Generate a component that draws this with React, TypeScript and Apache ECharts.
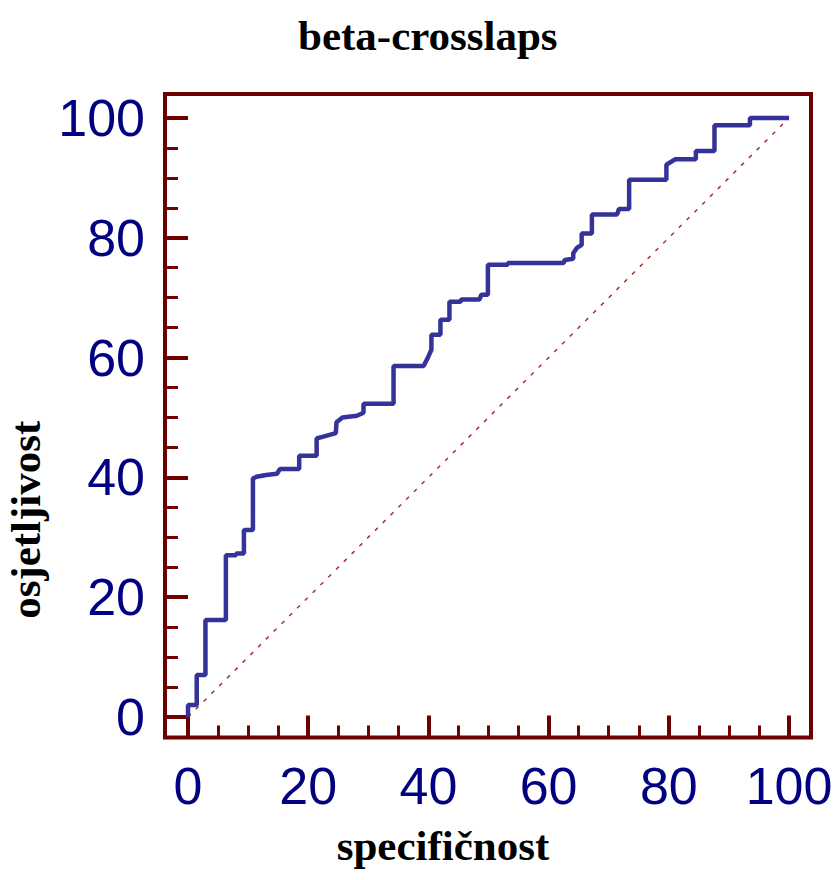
import React, { useEffect, useRef } from "react";
import * as echarts from "echarts";

const titleText = "beta-crosslaps";
const xTitle = "specifičnost";
const yTitle = "osjetljivost";

const majorTicks = [0, 20, 40, 60, 80, 100];
const minorTicks = [5, 10, 15, 25, 30, 35, 45, 50, 55, 65, 70, 75, 85, 90, 95];

const specificity = [
  0, 0, 1.45, 1.45, 2.9, 2.9, 6.3, 6.3, 8.0, 8.0, 9.3, 9.3, 10.8, 10.8, 11.4, 13.0, 14.8, 15.3,
  18.5, 18.5, 21.4, 21.4, 22.5, 24.6, 24.7, 25.7, 28.1, 29.2, 29.2, 34.2, 34.2, 39.2, 40.0, 40.5,
  40.5, 42.0, 42.0, 43.5, 43.5, 45.3, 45.5, 48.5, 48.8, 49.9, 49.9, 53.2, 53.2, 62.5, 62.7, 64.1,
  64.1, 64.7, 65.5, 65.5, 67.2, 67.2, 71.4, 71.7, 73.4, 73.4, 79.6, 79.6, 81.1, 84.5, 84.5, 87.6,
  87.6, 93.5, 93.5, 100,
];
const sensitivity = [
  0, 2.0, 2.0, 7.0, 7.0, 16.2, 16.2, 27.0, 27.0, 27.3, 27.3, 31.2, 31.2, 39.8, 40.1, 40.4, 40.6,
  41.4, 41.4, 43.6, 43.6, 46.5, 46.8, 47.4, 49.2, 50.0, 50.3, 50.8, 52.3, 52.3, 58.6, 58.6, 60.2,
  61.3, 63.8, 63.8, 66.3, 66.3, 69.3, 69.3, 69.7, 69.7, 70.5, 70.5, 75.5, 75.5, 75.8, 75.8, 76.3,
  76.5, 77.4, 78.3, 78.8, 80.7, 80.7, 83.9, 83.9, 84.8, 84.8, 89.7, 89.7, 92.2, 93.1, 93.1, 94.5,
  94.5, 98.8, 98.8, 100, 100,
];
const diagX = [0, 100];
const diagY = [0, 100];

const FRAME = "#6e0000";
const LABEL = "#000080";

export default function App() {
  const ref = useRef<HTMLDivElement>(null);
  useEffect(() => {
    if (!ref.current) return;
    const chart = echarts.init(ref.current, null, { renderer: "svg" });
    const xMin = -3.83, xMax = 103.66, yMin = -3.42, yMax = 104.0;
    const labelStyle = {
      fontFamily: "Liberation Sans",
      fontSize: 52,
      color: LABEL,
      lineHeight: 52,
    };
    const hiddenLine = { show: false, onZero: false };
    chart.setOption({
      animation: false,
      backgroundColor: "#ffffff",
      title: {
        text: titleText,
        left: 293,
        top: 9,
        textStyle: {
          fontFamily: "Liberation Serif",
          fontWeight: "bold",
          fontSize: 43,
          color: "#000000",
        },
      },
      grid: {
        left: 165,
        right: 27,
        top: 94,
        bottom: 142.5,
        containLabel: false,
        outerBoundsMode: "none",
        show: true,
        borderColor: FRAME,
        borderWidth: 4,
        backgroundColor: "transparent",
      },
      xAxis: [
        {
          type: "value",
          min: xMin,
          max: xMax,
          position: "bottom",
          name: xTitle,
          nameLocation: "middle",
          nameGap: 86,
          nameTextStyle: {
            fontFamily: "Liberation Serif",
            fontWeight: "bold",
            fontSize: 43,
            color: "#000000",
            padding: [0, 90, 0, 0],
          },
          axisLine: hiddenLine,
          splitLine: { show: false },
          axisTick: {
            show: true,
            inside: true,
            length: 22,
            customValues: majorTicks,
            lineStyle: { color: FRAME, width: 4 },
          },
          axisLabel: { ...labelStyle, margin: 22, customValues: majorTicks },
        },
        {
          type: "value",
          min: xMin,
          max: xMax,
          position: "bottom",
          axisLine: hiddenLine,
          splitLine: { show: false },
          axisTick: {
            show: true,
            inside: true,
            length: 12,
            customValues: minorTicks,
            lineStyle: { color: FRAME, width: 3 },
          },
          axisLabel: { show: false },
        },
      ],
      yAxis: [
        {
          type: "value",
          min: yMin,
          max: yMax,
          position: "left",
          name: yTitle,
          nameLocation: "middle",
          nameRotate: 90,
          nameGap: 119,
          nameTextStyle: {
            fontFamily: "Liberation Serif",
            fontWeight: "bold",
            fontSize: 43,
            lineHeight: 36,
            color: "#000000",
            padding: [0, 208, 0, 0],
          },
          axisLine: hiddenLine,
          splitLine: { show: false },
          axisTick: {
            show: true,
            inside: true,
            length: 23,
            customValues: majorTicks,
            lineStyle: { color: FRAME, width: 4 },
          },
          axisLabel: { ...labelStyle, margin: 20, customValues: majorTicks, padding: [0, 0, 8, 0] },
        },
        {
          type: "value",
          min: yMin,
          max: yMax,
          position: "left",
          axisLine: hiddenLine,
          splitLine: { show: false },
          axisTick: {
            show: true,
            inside: true,
            length: 13,
            customValues: minorTicks,
            lineStyle: { color: FRAME, width: 3 },
          },
          axisLabel: { show: false },
        },
      ],
      series: [
        {
          type: "line",
          xAxisIndex: 0,
          yAxisIndex: 0,
          data: diagX.map((x, i) => [x, diagY[i]]),
          showSymbol: false,
          symbol: "none",
          lineStyle: { color: "#a83030", width: 1.5, type: [4, 7] },
          z: 2,
        },
        {
          type: "line",
          xAxisIndex: 0,
          yAxisIndex: 0,
          data: specificity.map((x, i) => [x, sensitivity[i]]),
          showSymbol: false,
          symbol: "none",
          lineStyle: { color: "#333399", width: 4.5 },
          z: 3,
        },
      ],
    });
    return () => chart.dispose();
  }, []);
  return (
    <div
      ref={ref}
      style={{ position: "fixed", left: 0, top: 0, width: 838, height: 880 }}
    />
  );
}
